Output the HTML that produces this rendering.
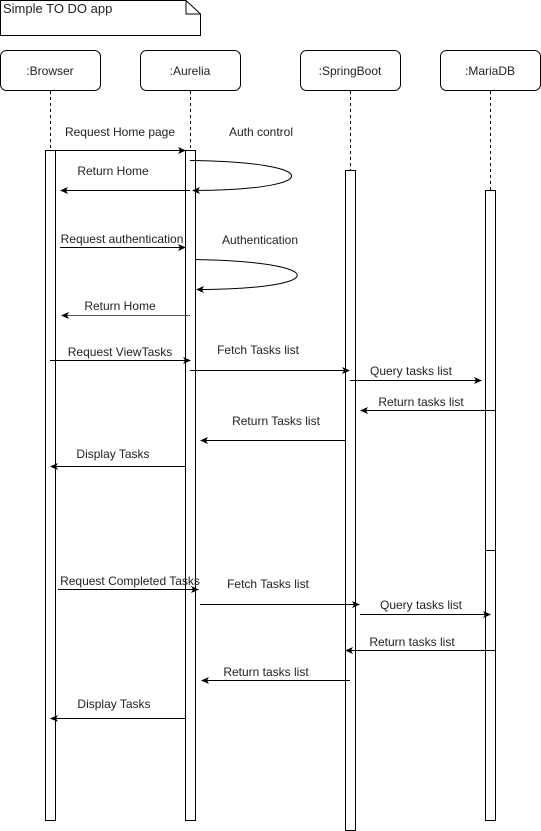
<!DOCTYPE html>
<html><head><meta charset="utf-8"><style>
html,body{margin:0;padding:0;background:#fff;}
svg{display:block;}
text{font-family:"Liberation Sans",sans-serif;font-size:12px;fill:#222;}
</style></head><body>
<svg width="541" height="831" viewBox="0 0 541 831" xmlns="http://www.w3.org/2000/svg">
<defs>
<marker id="a" markerWidth="8" markerHeight="8" refX="7" refY="4" orient="auto" markerUnits="userSpaceOnUse">
<path d="M0,0.5 L8,4 L0,7.5 L2,4 Z" fill="#000"/></marker>
</defs>
<g fill="none" stroke="#000" stroke-width="1">
<path d="M0.5,0.5 H186 L200.5,14 V35.5 H0.5 Z" fill="#fff"/>
<path d="M186,0.5 V14 H200.5"/>
<rect x="0.5" y="50.5" width="100" height="40" rx="6" fill="#fff"/>
<rect x="140.5" y="50.5" width="100" height="40" rx="6" fill="#fff"/>
<rect x="300.5" y="50.5" width="100" height="40" rx="6" fill="#fff"/>
<rect x="440.5" y="50.5" width="100" height="40" rx="6" fill="#fff"/>
<g stroke-dasharray="3,3">
<line x1="50.5" y1="91" x2="50.5" y2="150"/>
<line x1="190.5" y1="91" x2="190.5" y2="150"/>
<line x1="350.5" y1="91" x2="350.5" y2="170"/>
<line x1="490.5" y1="91" x2="490.5" y2="190"/>
</g>
<rect x="45.5" y="150.5" width="10" height="670" fill="#fff"/>
<rect x="185.5" y="150.5" width="10" height="670" fill="#fff"/>
<rect x="345.5" y="170.5" width="10" height="660" fill="#fff"/>
<rect x="485.5" y="190.5" width="10" height="630" fill="#fff"/>
<line x1="485.5" y1="550.5" x2="495.5" y2="550.5"/>

<g marker-end="url(#a)">
<line x1="55" y1="150.5" x2="185" y2="150.5"/>
<path d="M190,160.5 C325,162 325,190 193,190.5"/>
<line x1="190" y1="190.5" x2="61" y2="190.5"/>
<line x1="60" y1="247.5" x2="185" y2="247.5"/>
<path d="M195,259.5 C331,262 331,289 197,289.5"/>
<line x1="190" y1="315.5" x2="62" y2="315.5" stroke="#555"/>
<line x1="50" y1="360.5" x2="190" y2="360.5"/>
<line x1="190" y1="370.5" x2="349" y2="370.5"/>
<line x1="350" y1="380.5" x2="481" y2="380.5"/>
<line x1="495" y1="410.5" x2="361" y2="410.5"/>
<line x1="345" y1="440.5" x2="201" y2="440.5"/>
<line x1="185" y1="466.5" x2="51" y2="466.5"/>
<line x1="58" y1="589.5" x2="198" y2="589.5"/>
<line x1="200" y1="604.5" x2="359" y2="604.5"/>
<line x1="360" y1="614.5" x2="490" y2="614.5"/>
<line x1="495" y1="650.5" x2="346" y2="650.5"/>
<line x1="350" y1="680.5" x2="202" y2="680.5"/>
<line x1="185" y1="718.5" x2="51" y2="718.5"/>
</g>
</g>

<text x="3" y="13" style="font-size:13px">Simple TO DO app</text>
<g text-anchor="middle" style="font-size:13px">
<text x="50" y="75">:Browser</text>
<text x="190" y="75">:Aurelia</text>
<text x="350" y="75">:SpringBoot</text>
<text x="490" y="75">:MariaDB</text>
<text x="120" y="136">Request Home page</text>
<text x="261" y="136">Auth control</text>
<text x="122" y="243">Request authentication</text>
</g>
<g text-anchor="middle">
<text x="113" y="175">Return Home</text>
<text x="260" y="244">Authentication</text>
<text x="120" y="310">Return Home</text>
<text x="120" y="356">Request ViewTasks</text>
<text x="258" y="354">Fetch Tasks list</text>
<text x="411" y="375">Query tasks list</text>
<text x="421" y="406">Return tasks list</text>
<text x="276" y="425">Return Tasks list</text>
<text x="113" y="458">Display Tasks</text>
<text x="130" y="585">Request Completed Tasks</text>
<text x="268" y="588">Fetch Tasks list</text>
<text x="421" y="609">Query tasks list</text>
<text x="412" y="646">Return tasks list</text>
<text x="266" y="676">Return tasks list</text>
<text x="114" y="708">Display Tasks</text>
</g>
</svg>
</body></html>
